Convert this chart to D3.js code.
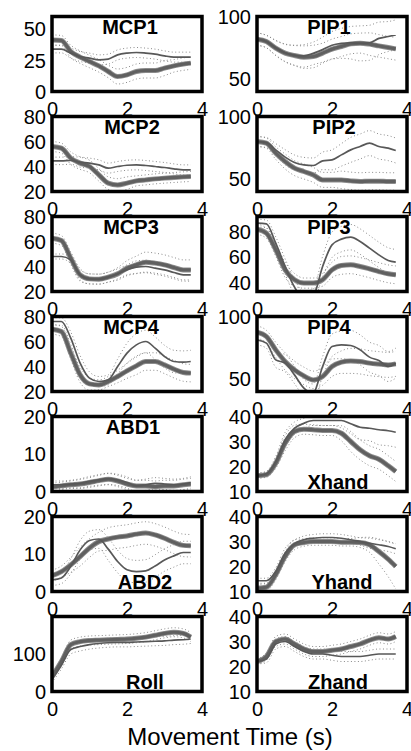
<!DOCTYPE html>
<html><head><meta charset="utf-8">
<script src="https://cdn.jsdelivr.net/npm/d3@7"></script>
<style>
body{margin:0;background:#fff}
svg{display:block}
text{font-family:"Liberation Sans",Arial,Helvetica,sans-serif;fill:#000}
</style>
</head><body>
<svg id="chart" width="411" height="751"></svg>
<script>
// time samples (s)
const TIME = [0,0.25,0.5,0.75,1,1.25,1.5,1.75,2,2.25,2.5,2.75,3,3.25,3.5,3.7];
const X_TICKS = [0,2,4];
const X_LABEL = "Movement Time (s)";

// ---- MCP1 ----
const MCP1_A   = [41.3,40.8,32,27.5,24,20.5,16,12,13.3,16,16.8,16.8,18.7,20.5,21.9,22.7];
const MCP1_B   = [33.9,33.9,30.7,28,26.7,25.3,25.9,29.3,30.7,31.2,30.7,29.9,28.5,27.5,27.5,27.5];
const MCP1_sdA = [4,4,5,5,5,5,5,6,6,6,6,6,6,5,5,5];
const MCP1_sdB = [3,3,4,4,4,4,4,4,4,4,4,4,4,4,4,4];
// ---- PIP1 ----
const PIP1_A   = [81.9,80,74.7,70.7,68.8,67.5,68,70.7,73.9,76,78.1,78.7,77.9,76.5,75.2,74.1];
const PIP1_B   = [82,80,75,71,69,68.5,70.5,73.5,77,78.5,79,78.5,79,82.5,84,85.3];
const PIP1_sdA = [5,5,6,7,8,9,9,8,8,8,8,8,9,9,9,9];
const PIP1_sdB = [5,5,6,7,8,9,9,10,11,12,13,14,14,13,12,12];
// ---- MCP2 ----
const MCP2_A   = [56,54.7,46.7,42.7,40,33.3,26.7,25.3,26.7,28.5,29.3,30.1,30.7,31.2,31.7,32];
const MCP2_B   = [44.5,44.5,44.8,43.5,42.7,41.3,38.7,40,41,41.3,40.8,40,39.2,38.1,37.3,37.3];
const MCP2_sdA = [4,4,5,5,5,5,5,5,5,4,4,4,4,4,4,4];
const MCP2_sdB = [3,3,3,4,4,4,4,4,4,4,4,4,4,4,4,4];
// ---- PIP2 ----
const PIP2_A   = [80,78.7,70.7,64,58.7,56,53.3,49.3,49.3,49.3,48.5,48,48.3,48.3,48,48];
const PIP2_B   = [80,79.2,73.3,67.5,63.2,61.3,60.8,64.5,65.3,69.3,73.3,76,78.7,76,74.7,72.8];
const PIP2_sdA = [4,4,5,6,6,6,6,6,6,7,7,7,7,7,7,7];
const PIP2_sdB = [4,4,5,6,6,6,6,7,8,9,10,10,10,10,10,10];
// ---- MCP3 ----
const MCP3_A   = [62.7,60.8,46.7,33.3,30.1,29.9,31.5,34.1,38.7,41.3,43.5,42.7,41.3,39.2,37.3,37.3];
const MCP3_B   = [48,48,45.3,33.3,30.1,29.9,31.5,34.1,37.3,39.5,40,38.7,37.3,35.2,33.3,33.3];
const MCP3_sdA = [4,4,5,5,4,4,4,5,6,7,8,8,8,8,8,8];
const MCP3_sdB = [2,2,3,4,4,4,4,4,4,5,5,5,5,5,5,5];
// ---- PIP3 ----
const PIP3_A   = [82,78.9,65.8,50,42.2,39.6,39.6,42.2,50,53.5,54,52.7,50.8,48.7,46.9,46.1];
const PIP3_B   = [86.8,86.2,71,52.7,36.4,28,30,52.7,69.7,74.2,75.7,72.3,67.1,61.8,57.4,56.1];
const PIP3_sdA = [4,4,5,6,5,4,4,5,6,7,7,7,7,7,7,7];
const PIP3_sdB = [3,3,5,6,6,5,5,8,10,10,10,10,10,10,10,10];
// ---- MCP4 ----
const MCP4_A   = [69.9,68,50.7,33.3,26.1,25.3,28,32,36.5,40.5,44,44,41.3,37.9,35.2,34.7];
const MCP4_B   = [76,76,62.7,42.7,30.7,28,29.3,40,50.7,57.3,60,54.7,48,44,43.5,44];
const MCP4_sdA = [4,4,5,6,5,4,4,5,6,7,7,7,7,7,7,7];
const MCP4_sdB = [3,3,5,6,5,4,4,6,8,9,9,9,9,9,9,9];
// ---- PIP4 ----
const PIP4_A   = [87.5,84,73.3,64,57.3,52.5,49.3,52,60,63.5,64.5,64,62.7,61.9,61.3,62.1];
const PIP4_B   = [81.3,78.7,65.3,62.7,53.3,42.7,39,60,76,77.3,76.8,73.3,67.5,64.8,60,62.7];
const PIP4_sdA = [5,5,6,7,7,7,7,7,8,9,10,10,10,10,10,10];
const PIP4_sdB = [4,4,6,7,7,7,7,8,10,11,12,12,12,12,12,12];
// ---- ABD1 ----
const ABD1_A   = [1.2,1.5,1.8,2.0,2.4,2.9,3.3,2.8,2.0,1.5,1.5,1.3,1.5,1.5,1.8,2.0];
const ABD1_B   = [1.8,1.8,2.0,2.2,2.7,3.1,3.4,3.1,2.4,1.5,1.8,2.2,2.0,1.8,2.0,2.4];
const ABD1_sdA = [1,1,1,1.2,1.3,1.4,1.5,1.5,1.5,1.5,1.5,1.5,1.5,1.5,1.5,1.5];
const ABD1_sdB = [1,1,1,1.2,1.3,1.4,1.5,1.5,1.5,1.5,1.5,1.5,1.5,1.5,1.5,1.5];
// ---- Xhand ----
const XH_A   = [16.3,16.7,21.3,29.3,34,34.9,34.7,34.4,34.4,33.3,30,26.7,24.3,22.9,20.3,18];
const XH_B   = [16.3,17.1,22,30.7,35.3,37.3,38.4,38.4,38.4,38.4,37.1,35.7,35.3,34.7,34.3,33.7];
const XH_sdA = [1,1,2,3,2.5,2,2,2,2,3,4,4,4,4,4,4];
const XH_sdB = [1,1,2,3,2.5,2,2,2,2,3,4,5,5,6,6,6];
// ---- ABD2 ----
const ABD2_A   = [4.2,5.3,7.1,9.3,11.6,13.3,14,14.5,14.8,15.3,15.6,15.1,14.2,13.1,12.3,12.2];
const ABD2_B   = [3.1,3.6,6.7,11.1,13.6,14,11.3,8,5.8,5.3,5.5,6.8,8.4,9.5,10.4,10.4];
const ABD2_sdA = [1.5,1.5,2,2.5,2.5,2.5,3,3,3,3,3,3,3,3,3,3];
const ABD2_sdB = [1.5,1.5,2,2.5,2.5,2.5,3,3,3,3,3,3,3,3,3,3];
// ---- Yhand ----
const YH_A   = [11.3,11.7,16.7,24,28.7,29.6,30,30,30,29.7,29.7,29.6,28.7,26,22.9,20];
const YH_B   = [14.3,14.3,18,25.3,29.1,30.7,31.3,31.6,31.6,31.3,30.7,30,29.3,28.7,28,27.1];
const YH_sdA = [1.5,1.5,2,2,2,1.5,1.5,1.5,1.5,1.5,1.5,2,3,5,7,9];
const YH_sdB = [1,1,1.5,2,1.5,1.5,1.5,1.5,1.5,1.5,1.5,1.5,2,2,2,2];
// ---- Roll ----
const ROLL_A   = [40,80,125,133,136,137,138,139,140,142,145,150,155,158,155,145];
const ROLL_B   = [32,70,112,120,125,128,130,131,131,132,133,134,135,137,138,140];
const ROLL_sdA = [8,10,12,12,12,12,12,12,12,12,12,12,12,12,12,12];
const ROLL_sdB = [8,10,12,12,12,12,12,12,12,12,12,12,12,12,12,12];
// ---- Zhand ----
const ZH_A   = [22,24,30,31,29,27,26,26,26.5,27,28,29,30.5,31.5,31,32];
const ZH_B   = [22,23,29,30,28,26,25,25,24.5,24,24,24,24.5,25,25,25];
const ZH_sdA = [1,1.5,2,2,2,2,2,2,2,2,2,2,2,2,2,2];
const ZH_sdB = [1,1.5,2,2,2,2,2,2,2,2,2,2,2,2,2,2];

// panel table built from the arrays above
const panels = [
  {name:"MCP1", col:0,row:0, dom:[0,60],  ticks:[0,25,50],    A:MCP1_A,B:MCP1_B,sA:MCP1_sdA,sB:MCP1_sdB, tx:130, top:true},
  {name:"PIP1", col:1,row:0, dom:[40,100],ticks:[50,100],     A:PIP1_A,B:PIP1_B,sA:PIP1_sdA,sB:PIP1_sdB, tx:329, top:true},
  {name:"MCP2", col:0,row:1, dom:[20,80], ticks:[20,40,60,80],A:MCP2_A,B:MCP2_B,sA:MCP2_sdA,sB:MCP2_sdB, tx:132, top:true},
  {name:"PIP2", col:1,row:1, dom:[40,100],ticks:[50,100],     A:PIP2_A,B:PIP2_B,sA:PIP2_sdA,sB:PIP2_sdB, tx:334, top:true},
  {name:"MCP3", col:0,row:2, dom:[20,80], ticks:[20,40,60,80],A:MCP3_A,B:MCP3_B,sA:MCP3_sdA,sB:MCP3_sdB, tx:131, top:true},
  {name:"PIP3", col:1,row:2, dom:[33,92], ticks:[40,60,80],   A:PIP3_A,B:PIP3_B,sA:PIP3_sdA,sB:PIP3_sdB, tx:329, top:true},
  {name:"MCP4", col:0,row:3, dom:[20,80], ticks:[20,40,60,80],A:MCP4_A,B:MCP4_B,sA:MCP4_sdA,sB:MCP4_sdB, tx:131, top:true},
  {name:"PIP4", col:1,row:3, dom:[40,100],ticks:[50,100],     A:PIP4_A,B:PIP4_B,sA:PIP4_sdA,sB:PIP4_sdB, tx:329, top:true},
  {name:"ABD1", col:0,row:4, dom:[0,20],  ticks:[0,10,20],    A:ABD1_A,B:ABD1_B,sA:ABD1_sdA,sB:ABD1_sdB, tx:133, top:true},
  {name:"Xhand",col:1,row:4, dom:[10,40], ticks:[10,20,30,40],A:XH_A,B:XH_B,sA:XH_sdA,sB:XH_sdB,         tx:338, top:false},
  {name:"ABD2", col:0,row:5, dom:[0,20],  ticks:[0,10,20],    A:ABD2_A,B:ABD2_B,sA:ABD2_sdA,sB:ABD2_sdB, tx:145, top:false},
  {name:"Yhand",col:1,row:5, dom:[10,40], ticks:[10,20,30,40],A:YH_A,B:YH_B,sA:YH_sdA,sB:YH_sdB,         tx:342, top:false},
  {name:"Roll", col:0,row:6, dom:[0,200], ticks:[0,100],      A:ROLL_A,B:ROLL_B,sA:ROLL_sdA,sB:ROLL_sdB, tx:145, top:false},
  {name:"Zhand",col:1,row:6, dom:[10,40], ticks:[10,20,30,40],A:ZH_A,B:ZH_B,sA:ZH_sdA,sB:ZH_sdB,         tx:338, top:false}
];

const svg = d3.select("#chart");
const colLeft = [52, 257];
const W = 150, H = 75;
const rowTop = r => 16.5 + 100*r;

panels.forEach((p,i) => {
  const x0 = colLeft[p.col], y0 = rowTop(p.row);
  const x = d3.scaleLinear().domain([0,4]).range([x0, x0+W]);
  const y = d3.scaleLinear().domain(p.dom).range([y0+H, y0]);
  const g = svg.append("g");

  const cid = "clip"+i;
  svg.append("clipPath").attr("id",cid).append("rect")
     .attr("x",x0).attr("y",y0).attr("width",W).attr("height",H);
  const plot = g.append("g").attr("clip-path",`url(#${cid})`);

  const line = d3.line().x((d,j)=>x(TIME[j])).y(d=>y(d)).curve(d3.curveMonotoneX);
  const bands = [
    p.A.map((v,j)=>v+p.sA[j]), p.A.map((v,j)=>v-p.sA[j]),
    p.B.map((v,j)=>v+p.sB[j]), p.B.map((v,j)=>v-p.sB[j])
  ];
  bands.forEach(b => plot.append("path").attr("d",line(b))
     .attr("fill","none").attr("stroke","#8a8a8a").attr("stroke-width",1)
     .attr("stroke-dasharray","1,2.5"));
  plot.append("path").attr("d",line(p.A)).attr("fill","none")
     .attr("stroke","#8c8c8c").attr("stroke-width",5).attr("stroke-linejoin","round");
  plot.append("path").attr("d",line(p.A)).attr("fill","none")
     .attr("stroke","#606060").attr("stroke-width",3.2).attr("stroke-linejoin","round");
  plot.append("path").attr("d",line(p.B)).attr("fill","none")
     .attr("stroke","#585858").attr("stroke-width",1.7).attr("stroke-linejoin","round");

  // axes
  const ay = g.append("g").attr("transform",`translate(${x0},0)`)
     .call(d3.axisLeft(y).tickValues(p.ticks).tickSize(0).tickPadding(6).tickFormat(d3.format("d")));
  ay.select(".domain").remove();
  ay.selectAll("text").attr("font-size",20).style("font-family","'Liberation Sans',Arial,sans-serif").attr("dy","0.34em");

  const ax = g.append("g").attr("transform",`translate(0,${y0+H})`)
     .call(d3.axisBottom(x).tickValues(X_TICKS).tickSize(0).tickPadding(10).tickFormat(d3.format("d")));
  ax.select(".domain").remove();
  ax.selectAll("text").attr("font-size",20).style("font-family","'Liberation Sans',Arial,sans-serif").attr("dy","0.72em");

  g.append("rect").attr("x",x0).attr("y",y0).attr("width",W).attr("height",H)
     .attr("fill","none").attr("stroke","#000").attr("stroke-width",3.5);

  g.append("text").text(p.name).attr("x",p.tx)
     .attr("y", p.top ? y0+17 : y0+H-2.5)
     .attr("text-anchor","middle").attr("font-size",20).attr("font-weight","bold");
});

svg.append("text").text(X_LABEL).attr("x",230).attr("y",745)
   .attr("text-anchor","middle").attr("font-size",24);
</script>
</body></html>
